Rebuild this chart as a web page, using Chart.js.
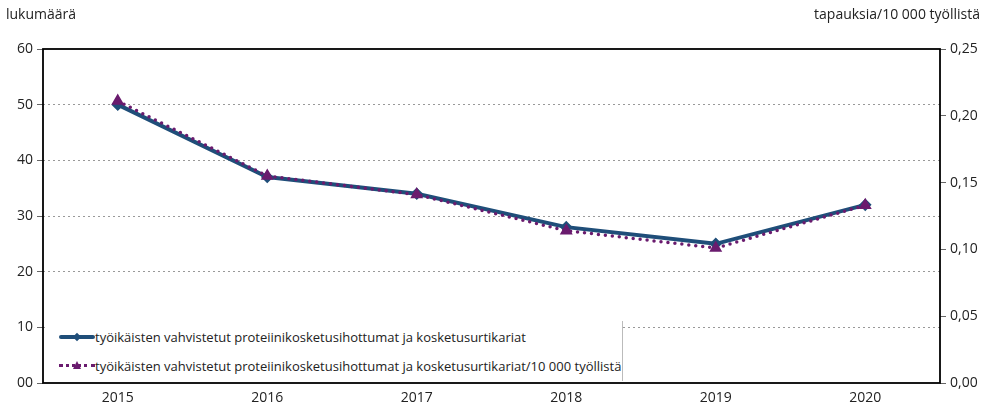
<!DOCTYPE html>
<html>
<head>
<meta charset="utf-8">
<script src="https://cdn.jsdelivr.net/npm/chart.js@4/dist/chart.umd.min.js"></script>
<style>
  html, body { margin: 0; padding: 0; background: #fff; }
  #wrap { position: relative; width: 984px; height: 409px; font-family: "Open Sans", sans-serif; color: #222; }
  #kaavio { position: absolute; left: 0; top: 0; }
  .otsikko { position: absolute; top: 4px; font-size: 14px; }
  #legenda { position: absolute; left: 45px; top: 321px; width: 577px; height: 60px;
             background: #fff; border-right: 1px solid #bbb; font-size: 13px; }
  .rivi { position: absolute; left: 14px; height: 20px; line-height: 20px; white-space: nowrap; }
  .naytte { display: inline-block; position: relative; width: 36px; height: 20px; vertical-align: top; }
  .sininen { position: absolute; left: 0; top: 8px; width: 36px; height: 4px; background: #1f4e79; border-radius: 2px; }
  .vinoneliö { position: absolute; left: 15px; top: 7px; width: 6px; height: 6px; background: #1f4e79; transform: rotate(45deg); }
  .pisteet { position: absolute; left: 0; top: 8px; width: 36px; height: 0; border-top: 3px dotted #6a1b6e; }
  .kolmio { position: absolute; left: 14px; top: 5px; width: 0; height: 0;
            border-left: 4px solid transparent; border-right: 4px solid transparent; border-bottom: 8px solid #6a1b6e; }
</style>
</head>
<body>
<div id="wrap">
  <canvas id="kaavio" width="984" height="409"></canvas>
  <div class="otsikko" style="left:6px;">lukumäärä</div>
  <div class="otsikko" style="right:4px;">tapauksia/10 000 työllistä</div>
  <div id="legenda">
    <div class="rivi" style="top:6px;"><span class="naytte"><span class="sininen"></span><span class="vinoneliö"></span></span>työikäisten vahvistetut proteiinikosketusihottumat ja kosketusurtikariat</div>
    <div class="rivi" style="top:35px;"><span class="naytte"><span class="pisteet"></span><span class="kolmio"></span></span>työikäisten vahvistetut proteiinikosketusihottumat ja kosketusurtikariat/10 000 työllistä</div>
  </div>
</div>
<script>
var vuodet = ['2015', '2016', '2017', '2018', '2019', '2020'];
var lukumaara = [50, 37, 34, 28, 25, 32];
var tapauksia = [0.211, 0.155, 0.141, 0.114, 0.101, 0.133];
var vasenTicks = [0, 10, 20, 30, 40, 50, 60];
var oikeaTicks = [0, 0.05, 0.10, 0.15, 0.20, 0.25];

var sarja1 = 'työikäisten vahvistetut proteiinikosketusihottumat ja kosketusurtikariat';
var sarja2 = 'työikäisten vahvistetut proteiinikosketusihottumat ja kosketusurtikariat/10 000 työllistä';

Chart.defaults.font.family = '"Open Sans", sans-serif';
Chart.defaults.font.size = 14;
Chart.defaults.color = '#222';

// kehys piirtoalueen ympärille
var kehys = {
    id: 'kehys',
    afterDraw: function(chart) {
        var a = chart.chartArea, ctx = chart.ctx;
        ctx.save();
        ctx.strokeStyle = '#000';
        ctx.lineWidth = 1.8;
        ctx.strokeRect(a.left, a.top, a.right - a.left, a.bottom - a.top);
        ctx.restore();
    }
};

function ruudukko(ctx) {
    var v = ctx.tick ? ctx.tick.value : null;
    if (v === 0 || v === 60) return 'rgba(0,0,0,0)';
    return '#999';
}

var ctx = document.getElementById('kaavio').getContext('2d');
new Chart(ctx, {
    type: 'line',
    data: {
        labels: vuodet,
        datasets: [
            {
                label: sarja1,
                data: lukumaara,
                yAxisID: 'y',
                borderColor: '#1f4e79',
                backgroundColor: '#1f4e79',
                borderWidth: 4,
                pointStyle: 'rectRot',
                pointRadius: 3.5,
                pointHoverRadius: 3.5,
                tension: 0,
                order: 1
            }, {
                label: sarja2,
                data: tapauksia,
                yAxisID: 'y2',
                borderColor: '#6a1b6e',
                backgroundColor: '#6a1b6e',
                borderWidth: 3.5,
                borderDash: [0, 7],
                borderCapStyle: 'round',
                pointStyle: 'triangle',
                pointRadius: 4,
                pointHoverRadius: 4,
                tension: 0,
                order: 0
            }
        ]
    },
    options: {
        responsive: false,
        animation: false,
        layout: { padding: { top: 49, left: 0, right: 0, bottom: 0 } },
        plugins: { legend: { display: false }, tooltip: { enabled: false } },
        scales: {
            x: {
                offset: true,
                grid: { display: false, drawTicks: false },
                border: { display: false },
                ticks: { padding: 7 },
                afterFit: function(s) { s.height = 26; }
            },
            y: {
                position: 'left',
                min: 0, max: 60,
                afterBuildTicks: function(s) { s.ticks = vasenTicks.map(function(v) { return { value: v }; }); },
                ticks: {
                    padding: 4,
                    callback: function(v) { return v === 0 ? '00' : String(v); }
                },
                grid: {
                    color: ruudukko,
                    lineWidth: 1,
                    tickColor: '#666',
                    tickLength: 6,
                    tickBorderDash: []
                },
                border: { display: false, dash: [2, 3] },
                afterFit: function(s) { s.width = 43; }
            },
            y2: {
                position: 'right',
                min: 0, max: 0.25,
                afterBuildTicks: function(s) { s.ticks = oikeaTicks.map(function(v) { return { value: v }; }); },
                ticks: {
                    padding: 4,
                    callback: function(v) { return v.toFixed(2).replace('.', ','); }
                },
                grid: {
                    drawOnChartArea: false,
                    tickColor: '#666',
                    tickLength: 6
                },
                border: { display: false },
                afterFit: function(s) { s.width = 44; }
            }
        }
    },
    plugins: [kehys]
});
</script>
</body>
</html>
